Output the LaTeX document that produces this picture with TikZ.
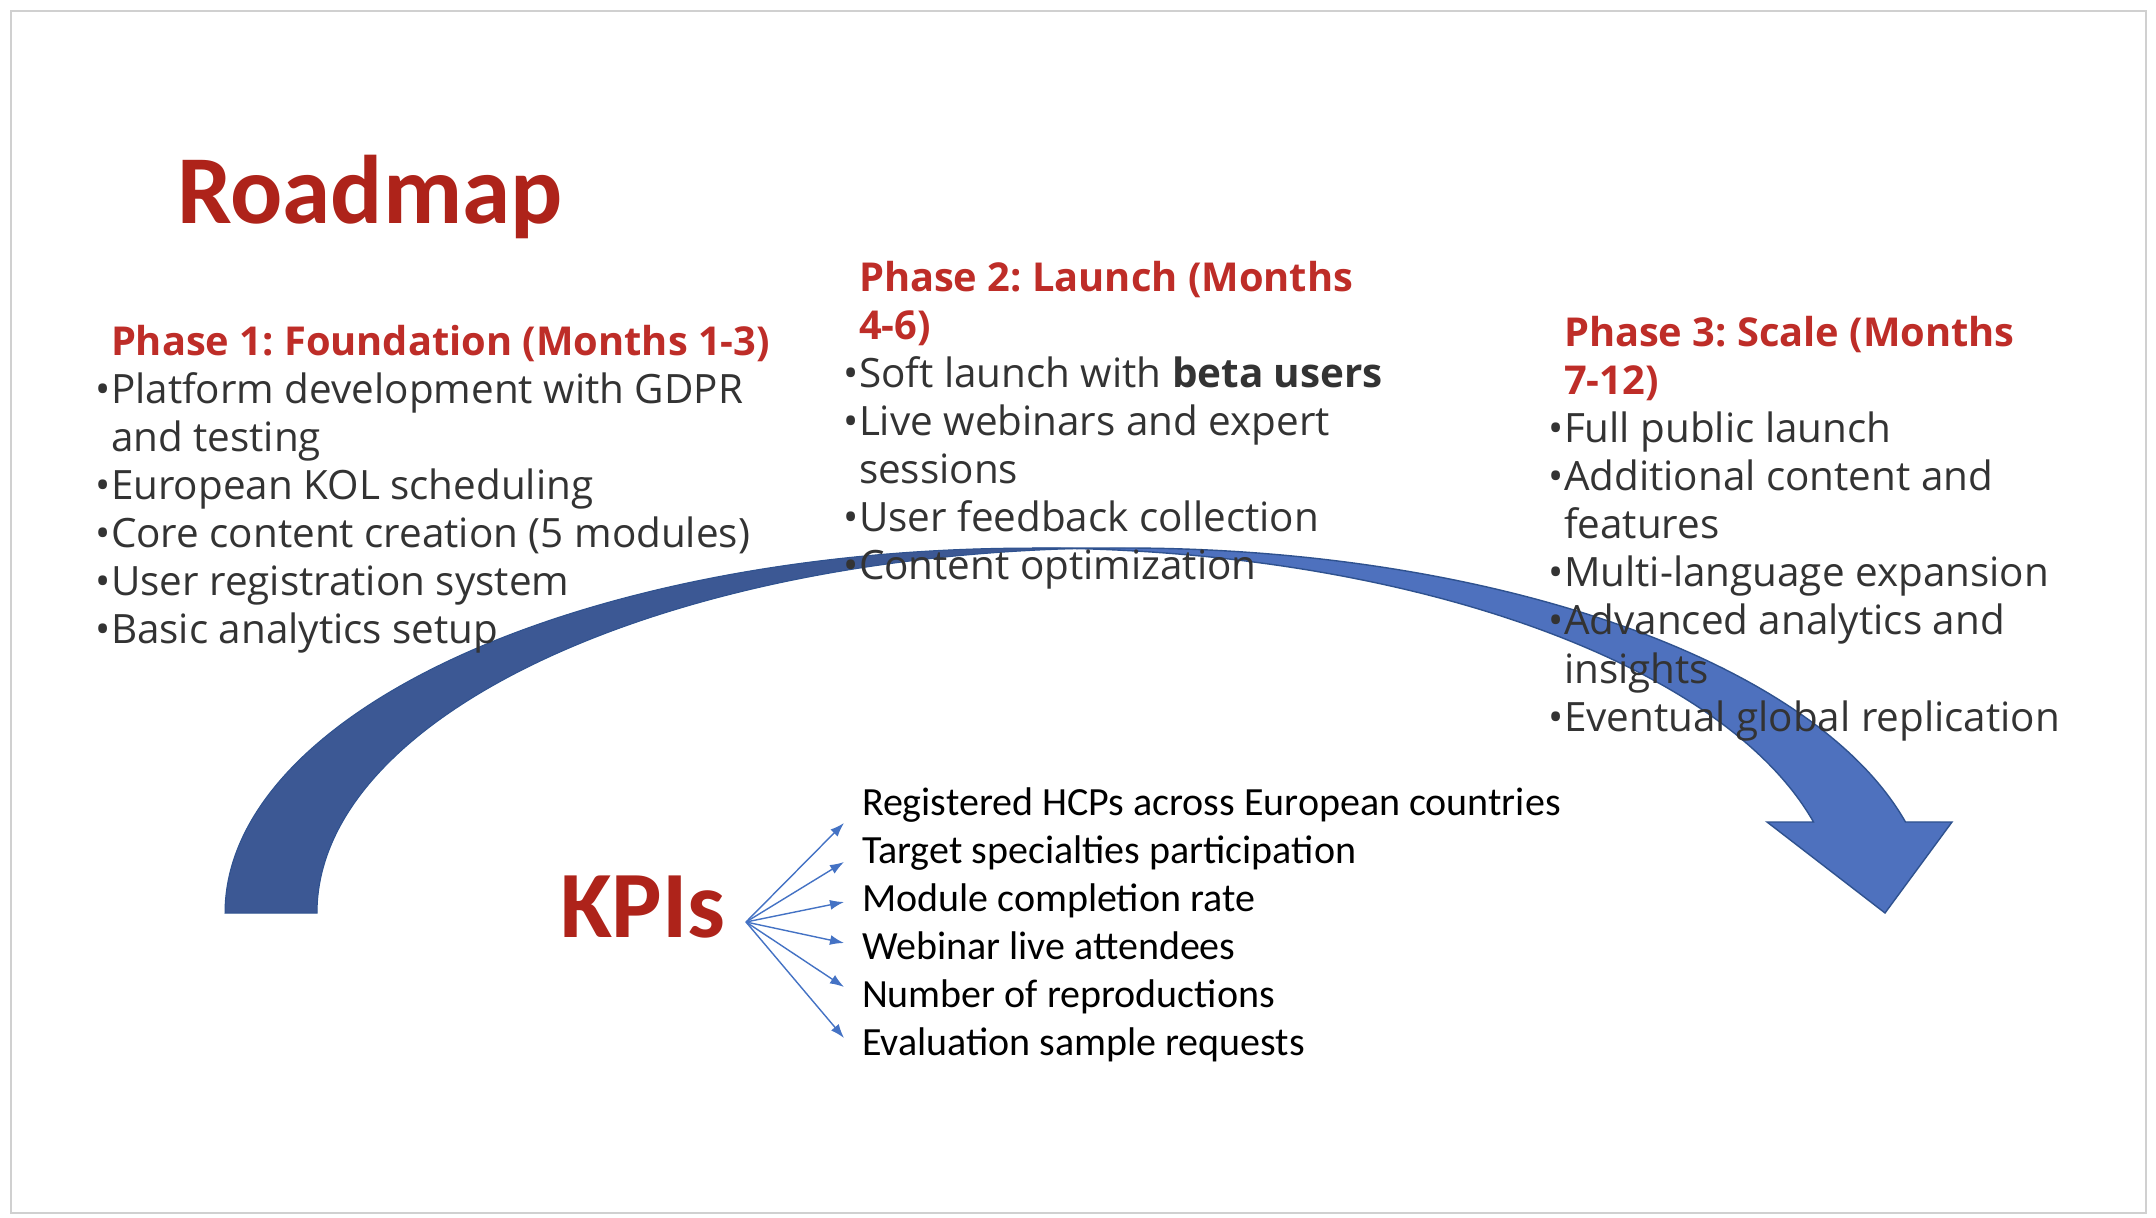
\documentclass[tikz,border=0pt]{standalone}
\usepackage{fontspec}
\usetikzlibrary{arrows.meta}
\newfontfamily\bodyfont{Open Sans}
\newfontfamily\calfont{Carlito}
\frenchspacing
\definecolor{titlered}{RGB}{174,35,26}
\definecolor{headred}{RGB}{190,45,40}
\definecolor{bodygray}{RGB}{51,51,51}
\definecolor{framegray}{RGB}{208,208,208}
\definecolor{bandback}{RGB}{60,88,148}
\definecolor{bandfront}{RGB}{78,113,190}
\definecolor{bandedge}{RGB}{47,82,143}
\definecolor{kpiblue}{RGB}{68,114,196}
\begin{document}
\begin{tikzpicture}[x=0.5pt,y=-0.5pt,
  every node/.style={inner sep=0pt, outer sep=0pt},
  bigtitle/.style={anchor=base west, text=titlered, font=\calfont\bfseries\fontsize{48.7pt}{52pt}\selectfont},
  phasehead/.style={anchor=base west, text=headred, font=\bodyfont\bfseries\fontsize{19.9pt}{23pt}\selectfont},
  bodyline/.style={anchor=base west, text=bodygray, font=\bodyfont\fontsize{20.2pt}{23pt}\selectfont},
  kpiline/.style={anchor=base west, text=black, font=\calfont\fontsize{20pt}{23pt}\selectfont},
  kpiarrow/.style={draw=kpiblue, line width=0.7pt, -{Latex[length=7pt,width=5pt]}}
]
\useasboundingbox (0,0) rectangle (2156,1218);
\fill[white] (0,0) rectangle (2156,1218);
\draw[framegray, line width=1pt] (11,11) rectangle (2146,1213);

% curved down arrow: back crescent, then front crescent with head
\filldraw[fill=bandback, draw=bandedge, line width=0.5pt]
  (225,913) arc[start angle=180, end angle=273.27, x radius=807, y radius=365]
  arc[start angle=266.73, end angle=180, x radius=807, y radius=365] -- cycle;
\filldraw[fill=bandfront, draw=bandedge, line width=0.7pt]
  (1885,913) -- (1767,822) -- (1813.5,822)
  arc[start angle=345.56, end angle=270, x radius=807, y radius=365]
  -- (1124,548)
  arc[start angle=270, end angle=345.56, x radius=807, y radius=365]
  -- (1952,822) -- cycle;

% titles
\node[bigtitle] (roadmap) at (177,224) {Roadmap};
\node[bigtitle, font=\calfont\bfseries\fontsize{47.5pt}{50pt}\selectfont] (kpis) at (560,937) {KPIs};

% phase 1
\node[phasehead] (p1h) at (111,356) {Phase 1: Foundation (Months 1-3)};
\node[bodyline] (p1a) at (111,404) {\llap{•}Platform development with GDPR};
\node[bodyline] (p1b) at (111,452) {and testing};
\node[bodyline] (p1c) at (111,500) {\llap{•}European KOL scheduling};
\node[bodyline] (p1d) at (111,548) {\llap{•}Core content creation (5 modules)};
\node[bodyline] (p1e) at (111,596) {\llap{•}User registration system};
\node[bodyline] (p1f) at (111,644) {\llap{•}Basic analytics setup};

% phase 2
\node[phasehead] (p2h) at (859,292) {Phase 2: Launch (Months};
\node[phasehead] (p2i) at (859,340) {4-6)};
\node[bodyline] (p2a) at (859,388) {\llap{•}Soft launch with \textbf{beta users}};
\node[bodyline] (p2b) at (859,436) {\llap{•}Live webinars and expert};
\node[bodyline] (p2c) at (859,484) {sessions};
\node[bodyline] (p2d) at (859,532) {\llap{•}User feedback collection};
\node[bodyline] (p2e) at (859,580) {\llap{•}Content optimization};

% phase 3
\node[phasehead] (p3h) at (1564,347) {Phase 3: Scale (Months};
\node[phasehead] (p3i) at (1564,395) {7-12)};
\node[bodyline] (p3a) at (1564,443) {\llap{•}Full public launch};
\node[bodyline] (p3b) at (1564,491) {\llap{•}Additional content and};
\node[bodyline] (p3c) at (1564,539) {features};
\node[bodyline] (p3d) at (1564,587) {\llap{•}Multi-language expansion};
\node[bodyline] (p3e) at (1564,635) {\llap{•}Advanced analytics and};
\node[bodyline] (p3f) at (1564,683) {insights};
\node[bodyline] (p3g) at (1564,731) {\llap{•}Eventual global replication};

% KPI list
\node[kpiline] (k1) at (862,815) {Registered HCPs across European countries};
\node[kpiline] (k2) at (862,863) {Target specialties participation};
\node[kpiline] (k3) at (862,911) {Module completion rate};
\node[kpiline] (k4) at (862,959) {Webinar live attendees};
\node[kpiline] (k5) at (862,1007) {Number of reproductions};
\node[kpiline] (k6) at (862,1055) {Evaluation sample requests};

% fan of arrows from the KPIs label
\coordinate (kfan) at (746,922);
\coordinate (t1) at (844,823);
\coordinate (t2) at (844,862);
\coordinate (t3) at (844,902);
\coordinate (t4) at (844,943);
\coordinate (t5) at (844,987);
\coordinate (t6) at (844,1038);
\foreach \t in {t1,t2,t3,t4,t5,t6} \draw[kpiarrow] (kfan) -- (\t);
\end{tikzpicture}
\end{document}
